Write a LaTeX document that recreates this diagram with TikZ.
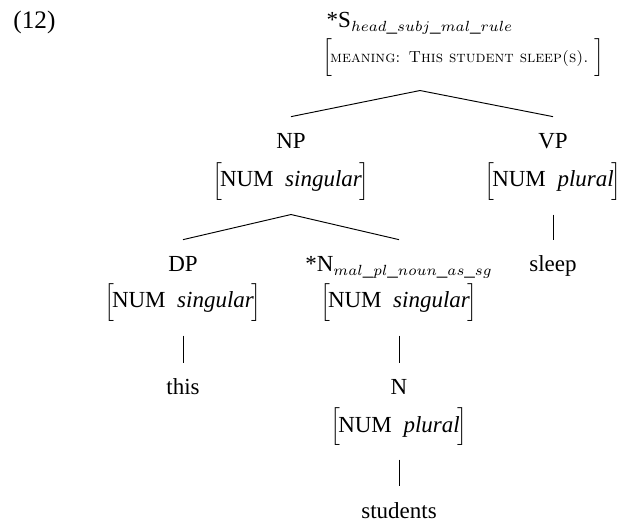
\documentclass[tikz,border=0pt,11pt]{standalone}
\usepackage{fontspec}
\setmainfont{Liberation Serif}
\usetikzlibrary{calc}
\newcommand\avmbr[1]{$\Big[$\kern-1pt#1\kern-1pt$\Big]$}
\newcommand\feat[2]{#1\hspace{5.5pt}\textit{#2}}
\newcommand\subsc[1]{{\fontsize{10}{12}\selectfont$_{#1}$}}
\begin{document}
\begin{tikzpicture}[x=0.476pt,y=-0.476pt,
  lbl/.style={inner sep=0pt, anchor=base, text height=7pt, text depth=0pt},
  avm/.style={inner sep=0pt, anchor=base, text height=13pt, text depth=6pt},
  br/.style={line width=0.45pt}]
\useasboundingbox (0,0) rectangle (621,522);
% example number
\node[inner sep=0pt, anchor=base west, font=\fontsize{12}{14}\selectfont] (exnum) at (13,29) {(12)};
% level 0
\node[lbl] (S) at (420,28) {*S\subsc{head\_subj\_mal\_rule}};
\node[avm, anchor=base west] (Savm) at (322,63) {\avmbr{{\fontfamily{lmr}\fontsize{7.6}{9.5}\selectfont\scshape meaning: This student sleep(s).}\hspace{4pt}}};
% level 1
\node[lbl] (NP) at (291,149) {NP};
\node[avm] (NPavm) at (291,187) {\avmbr{\feat{NUM}{singular}}};
\node[lbl] (VP) at (553,149) {VP};
\node[avm] (VPavm) at (553,187) {\avmbr{\feat{NUM}{plural}}};
% level 2
\node[lbl] (DP) at (183,272) {DP};
\node[avm] (DPavm) at (183,308) {\avmbr{\feat{NUM}{singular}}};
\node[lbl] (N1) at (399,272) {*N\subsc{mal\_pl\_noun\_as\_sg}};
\node[avm] (N1avm) at (399,308) {\avmbr{\feat{NUM}{singular}}};
\node[lbl] (sleep) at (553,272) {sleep};
% level 3
\node[lbl] (this) at (183,395) {this};
\node[lbl] (N2) at (399,395) {N};
\node[avm] (N2avm) at (399,432) {\avmbr{\feat{NUM}{plural}}};
% level 4
\node[lbl] (students) at (399,518) {students};
% branches
\coordinate (Sroot) at ($(S |- Savm.south)+(0,-6.9pt)$);
\draw[br] (Sroot) -- ($(NP.north)+(0,8.2pt)$);
\draw[br] (Sroot) -- ($(VP.north)+(0,8.2pt)$);
\draw[br] ($(NPavm.south)+(0,-6.9pt)$) -- ($(DP.north)+(0,8.2pt)$);
\draw[br] ($(NPavm.south)+(0,-6.9pt)$) -- ($(N1.north)+(0,8.2pt)$);
\draw[br] ($(VPavm.south)+(0,-6.9pt)$) -- ($(sleep.north)+(0,8.2pt)$);
\draw[br] ($(DPavm.south)+(0,-6.9pt)$) -- ($(this.north)+(0,8.2pt)$);
\draw[br] ($(N1avm.south)+(0,-6.9pt)$) -- ($(N2.north)+(0,8.2pt)$);
\draw[br] ($(N2avm.south)+(0,-6.9pt)$) -- ($(students.north)+(0,8.2pt)$);
\end{tikzpicture}
\end{document}
